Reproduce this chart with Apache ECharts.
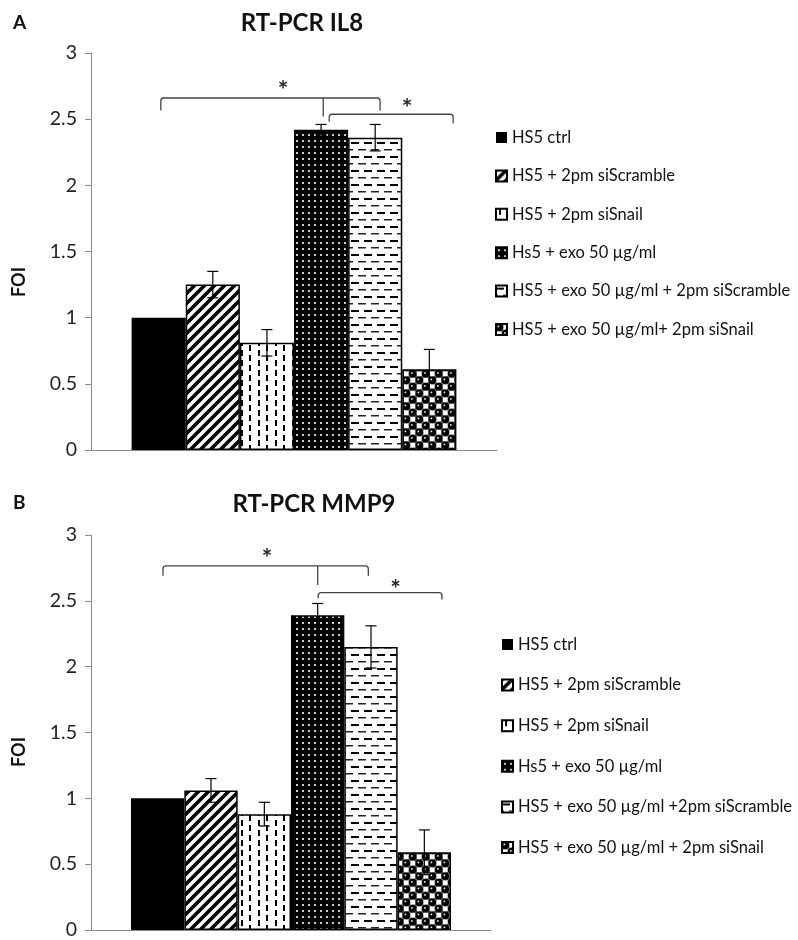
<!DOCTYPE html>
<html><head><meta charset="utf-8">
<script src="https://cdn.jsdelivr.net/npm/echarts@6/dist/echarts.min.js"></script>
<style>html,body{margin:0;padding:0;background:#fff}#a,#b{width:798px;height:470px}</style>
</head><body><div id="a"></div><div id="b"></div>
<script>
// ---------- DATA ----------
const category = [''];
const yTicks = { min: 0, max: 3, interval: 0.5 };

const il8Names = ['HS5 ctrl', 'HS5 + 2pm siScramble', 'HS5 + 2pm siSnail', 'Hs5 + exo 50 µg/ml',
  'HS5 + exo 50 µg/ml + 2pm siScramble', 'HS5 + exo 50 µg/ml+ 2pm siSnail'];
const il8Values = [1.0, 1.25, 0.81, 2.42, 2.36, 0.61];
const il8Errors = [0, 0.10, 0.10, 0.04, 0.10, 0.15];
// brackets: [xLeft, xRight (bar units), yLine, yLeftEnd, yRightEnd, xMid, yMidEnd]
const il8Brackets = [[0.54, 4.59, 2.66, 2.565, 2.565, 3.54, 2.52], [3.65, 5.94, 2.537, 2.48, 2.47, -1, 0]];
const il8Stars = [[2.80, 2.76], [5.09, 2.625]];

const mmp9Names = ['HS5 ctrl', 'HS5 + 2pm siScramble', 'HS5 + 2pm siSnail', 'Hs5 + exo 50 µg/ml',
  'HS5 + exo 50 µg/ml +2pm siScramble', 'HS5 + exo 50 µg/ml + 2pm siSnail'];
const mmp9Values = [1.0, 1.06, 0.88, 2.39, 2.15, 0.59];
const mmp9Errors = [0, 0.09, 0.09, 0.09, 0.16, 0.17];
const mmp9Brackets = [[0.60, 4.45, 2.765, 2.69, 2.69, 3.50, 2.62], [3.51, 5.83, 2.563, 2.52, 2.51, -1, 0]];
const mmp9Stars = [[2.55, 2.86], [4.96, 2.63]];

// ---------- PATTERNS ----------
function tile(w, h, draw) {
  const c = document.createElement('canvas'); c.width = w; c.height = h;
  const g = c.getContext('2d'); draw(g, w, h); return { image: c, repeat: 'repeat' };
}
function makePatterns() {
  return [
    '#000',
    tile(10, 10, g => { g.fillStyle = '#fff'; g.fillRect(0, 0, 10, 10); g.strokeStyle = '#000'; g.lineWidth = 3.6;
      g.beginPath(); g.moveTo(-5, 5); g.lineTo(5, -5); g.moveTo(0, 10); g.lineTo(10, 0); g.moveTo(5, 15); g.lineTo(15, 5); g.stroke(); }),
    tile(17, 10, g => { g.fillStyle = '#fff'; g.fillRect(0, 0, 17, 10); g.fillStyle = '#000';
      g.fillRect(3, 0, 2, 6); g.fillRect(11, 5, 2, 5); g.fillRect(11, 0, 2, 1); }),
    tile(6, 6, g => { g.fillStyle = '#000'; g.fillRect(0, 0, 6, 6); g.fillStyle = '#ccc'; g.fillRect(2, 2, 2, 2); }),
    tile(13, 14, g => { g.fillStyle = '#fff'; g.fillRect(0, 0, 13, 14); g.fillStyle = '#000';
      g.fillRect(0, 2, 8, 2); g.fillStyle = '#222'; g.fillRect(7, 9, 6, 1.5); g.fillRect(0, 9, 2, 1.5); }),
    tile(13, 13, g => { g.fillStyle = '#fff'; g.fillRect(0, 0, 13, 13);
      g.strokeStyle = '#444'; g.lineWidth = 1; g.strokeRect(6.8, 0.4, 5.8, 5.8); g.strokeRect(0.4, 6.8, 5.8, 5.8);
      g.fillStyle = '#000';
      [[3.25, 3.25], [9.75, 9.75]].forEach(p => { g.beginPath(); g.arc(p[0], p[1], 3.9, 0, Math.PI * 2); g.fill(); });
      g.fillStyle = '#eee'; [[2.4, 2.4], [8.9, 8.9]].forEach(p => { g.beginPath(); g.arc(p[0], p[1], 0.9, 0, Math.PI * 2); g.fill(); });
    })
  ];
}

const CAT_GAP = 0.2;
const FONT = 'Lato';

function barX(api, pos) {
  const c = api.coord([0, 0]);
  const band = api.size([1, 0])[0];
  const gw = band * (1 - CAT_GAP);
  return c[0] - gw / 2 + pos * gw / 6;
}

function build(el, cfg) {
  const chart = echarts.init(el, null, { renderer: 'canvas' });
  const pats = makePatterns();
  const series = cfg.names.map((n, i) => ({
    name: n, type: 'bar', data: [cfg.values[i]], barGap: '0%', barCategoryGap: (CAT_GAP * 100) + '%',
    itemStyle: { color: pats[i], borderColor: '#000', borderWidth: i === 0 ? 0 : 1.5 },
    emphasis: { disabled: true }
  }));
  series.push({
    type: 'custom', z: 5, silent: true,
    data: cfg.values.map((v, i) => [0, v, cfg.errors[i], i]),
    encode: { x: 0, y: 1 },
    renderItem: (p, api) => {
      const v = api.value(1), e = api.value(2), i = api.value(3);
      if (!e) return { type: 'group', children: [] };
      const x = barX(api, i + 0.5);
      const yt = api.coord([0, v + e])[1], yb = api.coord([0, v - e])[1];
      const st = { stroke: '#000', lineWidth: 1.2 };
      return { type: 'group', children: [
        { type: 'line', shape: { x1: x, y1: yt, x2: x, y2: yb }, style: st },
        { type: 'line', shape: { x1: x - 5.5, y1: yt, x2: x + 5.5, y2: yt }, style: st },
        { type: 'line', shape: { x1: x - 5.5, y1: yb, x2: x + 5.5, y2: yb }, style: st }
      ] };
    }
  });
  series.push({
    type: 'custom', z: 6, silent: true,
    data: cfg.brackets.map(b => [0, b[2], b[0], b[1], b[3], b[4], b[5], b[6]]),
    encode: { x: 0, y: 1 },
    renderItem: (p, api) => {
      const y = api.coord([0, api.value(1)])[1];
      const xl = barX(api, api.value(2)), xr = barX(api, api.value(3));
      const yl = api.coord([0, api.value(4)])[1], yr = api.coord([0, api.value(5)])[1];
      const st = { stroke: '#444', lineWidth: 1.3, fill: null };
      const r = 3;
      const ch = [{ type: 'path', shape: { pathData:
        `M${xl} ${yl} L${xl} ${y + r} Q${xl} ${y} ${xl + r} ${y} L${xr - r} ${y} Q${xr} ${y} ${xr} ${y + r} L${xr} ${yr}` }, style: st }];
      if (api.value(6) >= 0) {
        const xm = barX(api, api.value(6));
        ch.push({ type: 'line', shape: { x1: xm, y1: y, x2: xm, y2: api.coord([0, api.value(7)])[1] }, style: st });
      }
      return { type: 'group', children: ch };
    }
  });
  series.push({
    type: 'custom', z: 6, silent: true,
    data: cfg.stars.map(s => [0, s[1], s[0]]),
    encode: { x: 0, y: 1 },
    renderItem: (p, api) => {
      const y = api.coord([0, api.value(1)])[1];
      const x = barX(api, api.value(2));
      return { type: 'text', x: x, y: y + 6, style: { text: '*', font: 'bold 25px ' + FONT, fill: '#222',
        align: 'center', verticalAlign: 'middle', textAlign: 'center', textVerticalAlign: 'middle' } };
    }
  });
  chart.setOption({
    animation: false,
    backgroundColor: '#fff',
    grid: cfg.grid,
    xAxis: { type: 'category', data: category, axisTick: { show: false }, axisLabel: { show: false },
      axisLine: { lineStyle: { color: '#8a8a8a', width: 1 } } },
    yAxis: { type: 'value', min: yTicks.min, max: yTicks.max, interval: yTicks.interval, splitLine: { show: false },
      axisLine: { show: true, lineStyle: { color: '#8a8a8a', width: 1 } },
      axisTick: { show: true, length: 6, lineStyle: { color: '#8a8a8a' } },
      axisLabel: { fontFamily: FONT, fontSize: 19.5, color: '#222', margin: 14 } },
    legend: { orient: 'vertical', left: cfg.legend.left, top: cfg.legend.top, itemGap: cfg.legend.gap,
      itemWidth: 11, itemHeight: 11, icon: 'rect', data: cfg.names, selectedMode: false,
      textStyle: { fontFamily: FONT, fontSize: 16.5, color: '#111', lineHeight: 16 } },
    graphic: [
      { type: 'text', x: cfg.title.x, y: cfg.title.y, style: { text: cfg.title.text, font: 'bold 24px ' + FONT, fill: '#111',
        align: 'center', verticalAlign: 'middle', textAlign: 'center', textVerticalAlign: 'middle' } },
      { type: 'text', x: 13, y: cfg.letter.y, style: { text: cfg.letter.text, font: 'bold 19px ' + FONT, fill: '#111',
        align: 'left', verticalAlign: 'middle', textAlign: 'left', textVerticalAlign: 'middle' } },
      { type: 'text', x: 19, y: cfg.foiY, rotation: Math.PI / 2, style: { text: 'FOI', font: 'bold 18px ' + FONT, fill: '#111',
        align: 'center', verticalAlign: 'middle', textAlign: 'center', textVerticalAlign: 'middle' } }
    ],
    series: series
  });
  return chart;
}

build(document.getElementById('a'), {
  names: il8Names, values: il8Values, errors: il8Errors, brackets: il8Brackets, stars: il8Stars,
  grid: { left: 91, right: 301, top: 53, bottom: 20 },
  legend: { left: 490, top: 124, gap: 21.4 },
  title: { text: 'RT-PCR IL8', x: 302, y: 23 },
  letter: { text: 'A', y: 23 }, foiY: 282
});
build(document.getElementById('b'), {
  names: mmp9Names, values: mmp9Values, errors: mmp9Errors, brackets: mmp9Brackets, stars: mmp9Stars,
  grid: { left: 91, right: 307, top: 65, bottom: 9 },
  legend: { left: 496, top: 161, gap: 23.6 },
  title: { text: 'RT-PCR MMP9', x: 314, y: 34 },
  letter: { text: 'B', y: 33 }, foiY: 282
});
</script></body></html>
